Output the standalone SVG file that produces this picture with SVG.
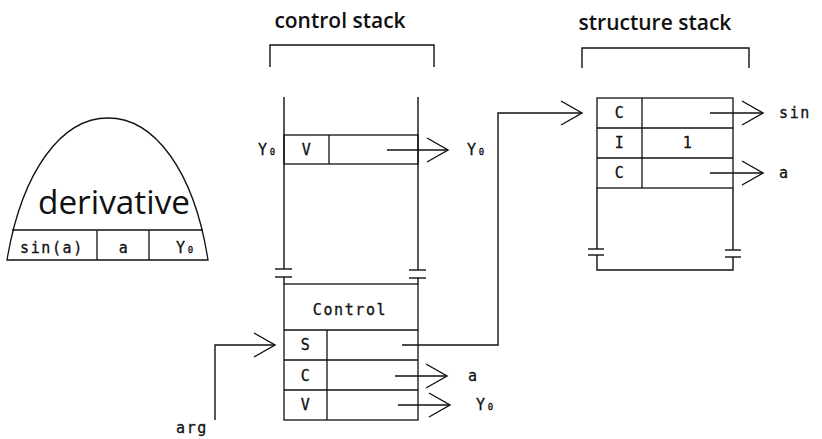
<svg xmlns="http://www.w3.org/2000/svg" width="822" height="439" viewBox="0 0 822 439">
<defs>
<style>
.ln{fill:none;stroke:#111;stroke-width:1.4}
.bx{fill:none;stroke:#111;stroke-width:1.3}
.title{font-family:"Open Sans","DejaVu Sans",sans-serif;font-size:21px;font-weight:600;fill:#111}
.mono{font-family:"DejaVu Sans Mono","Liberation Mono",monospace;font-size:15px;fill:#111;letter-spacing:1.6px;stroke:#111;stroke-width:0.3}
.big{font-family:"Open Sans","DejaVu Sans",sans-serif;font-size:32px;fill:#111}
.sub{font-size:9px;letter-spacing:0}
</style>
<marker id="ah" markerUnits="userSpaceOnUse" markerWidth="26" markerHeight="28" refX="22" refY="13" orient="auto">
<path d="M1,1 L22,13 L1,25" fill="none" stroke="#111" stroke-width="1.4"/>
</marker>
</defs>
<rect width="822" height="439" fill="#fff"/>

<g id="derivative">
<path class="bx" d="M7,260 C22,170 62,118 108,118 C154,118 194,170 208,260 Z"/>
<line class="bx" x1="12" y1="230" x2="203" y2="230"/>
<line class="bx" x1="97" y1="230" x2="97" y2="260"/>
<line class="bx" x1="149" y1="230" x2="149" y2="260"/>
<text class="big" x="114" y="214" text-anchor="middle" textLength="152" lengthAdjust="spacingAndGlyphs">derivative</text>
<text class="mono" x="52" y="253" text-anchor="middle">sin(a)</text>
<text class="mono" x="124" y="253" text-anchor="middle">a</text>
<text class="mono" x="176" y="253">Y<tspan class="sub" dx="1">0</tspan></text>
</g>

<g id="control-stack">
<text class="title" x="340" y="28" text-anchor="middle">control stack</text>
<path class="ln" d="M270,67 V45 H434 V67"/>
<line class="ln" x1="284" y1="97" x2="284" y2="269"/>
<line class="ln" x1="418" y1="97" x2="418" y2="270"/>
<line class="ln" x1="275" y1="269" x2="292" y2="269"/>
<line class="ln" x1="275" y1="277" x2="292" y2="277"/>
<line class="ln" x1="409" y1="270" x2="426" y2="270"/>
<line class="ln" x1="409" y1="278" x2="426" y2="278"/>
<line class="ln" x1="284" y1="277" x2="284" y2="284"/>
<line class="ln" x1="418" y1="278" x2="418" y2="284"/>
<rect class="bx" x="284" y="135" width="134" height="29"/>
<line class="bx" x1="329" y1="135" x2="329" y2="164"/>
<text class="mono" x="307" y="155" text-anchor="middle">V</text>
<text class="mono" x="258" y="155">Y<tspan class="sub" dx="1">0</tspan></text>
</g>

<g id="control-block">
<rect class="bx" x="284" y="284" width="134" height="136"/>
<line class="bx" x1="284" y1="330" x2="418" y2="330"/>
<line class="bx" x1="284" y1="360" x2="418" y2="360"/>
<line class="bx" x1="284" y1="390" x2="418" y2="390"/>
<line class="bx" x1="327" y1="330" x2="327" y2="420"/>
<text class="mono" x="350" y="315" text-anchor="middle">Control</text>
<text class="mono" x="306" y="350" text-anchor="middle">S</text>
<text class="mono" x="306" y="381" text-anchor="middle">C</text>
<text class="mono" x="306" y="410" text-anchor="middle">V</text>
</g>

<g id="structure-stack">
<text class="title" x="655" y="30" text-anchor="middle">structure stack</text>
<path class="ln" d="M582,68 V48 H749 V68"/>
<rect class="bx" x="597" y="98" width="136" height="90"/>
<line class="bx" x1="597" y1="128" x2="733" y2="128"/>
<line class="bx" x1="597" y1="158" x2="733" y2="158"/>
<line class="bx" x1="642" y1="98" x2="642" y2="188"/>
<line class="ln" x1="597" y1="188" x2="597" y2="249"/>
<line class="ln" x1="733" y1="188" x2="733" y2="250"/>
<line class="ln" x1="588" y1="249" x2="604" y2="249"/>
<line class="ln" x1="588" y1="255" x2="604" y2="255"/>
<line class="ln" x1="725" y1="250" x2="741" y2="250"/>
<line class="ln" x1="725" y1="257" x2="741" y2="257"/>
<path class="ln" d="M597,255 V270 H733 V257"/>
<text class="mono" x="620" y="118" text-anchor="middle">C</text>
<text class="mono" x="620" y="148" text-anchor="middle">I</text>
<text class="mono" x="620" y="178" text-anchor="middle">C</text>
<text class="mono" x="688" y="148" text-anchor="middle">1</text>
</g>

<g id="labels">
<text class="mono" x="467" y="155">Y<tspan class="sub" dx="1">0</tspan></text>
<text class="mono" x="468" y="381">a</text>
<text class="mono" x="476" y="410">Y<tspan class="sub" dx="1">0</tspan></text>
<text class="mono" x="779" y="118">sin</text>
<text class="mono" x="779" y="178">a</text>
<text class="mono" x="176" y="433">arg</text>
</g>

<g id="connectors">
<path class="ln" d="M387,150 H448" marker-end="url(#ah)"/>
<path class="ln" d="M402,345 H498 V113 H582" marker-end="url(#ah)"/>
<path class="ln" d="M395,376 H447" marker-end="url(#ah)"/>
<path class="ln" d="M398,405 H450" marker-end="url(#ah)"/>
<path class="ln" d="M215,420 V345 H275" marker-end="url(#ah)"/>
<path class="ln" d="M710,113 H763" marker-end="url(#ah)"/>
<path class="ln" d="M710,173 H763" marker-end="url(#ah)"/>
</g>
</svg>
